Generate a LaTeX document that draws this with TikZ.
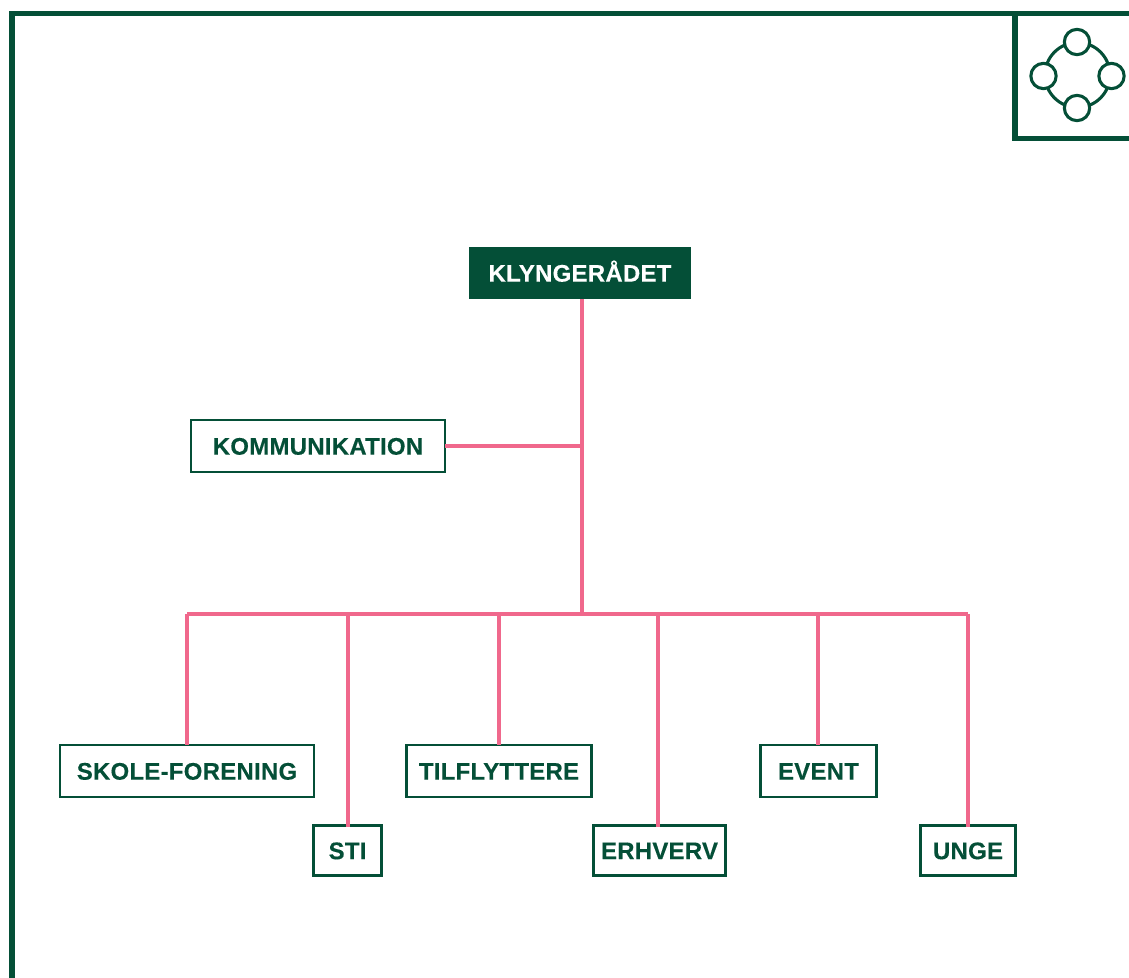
\documentclass[tikz,border=0pt]{standalone}
\usepackage{fontspec}
\setmainfont[LetterSpace=1,BoldFeatures={FakeBold=0.25}]{Liberation Sans}
\definecolor{klgreen}{HTML}{044F37}
\definecolor{klpink}{HTML}{F0688C}
\tikzset{
  x=0.75pt,y=-0.75pt,
  frameline/.style={draw=klgreen,line width=4.1pt,line cap=butt},
  link/.style={draw=klpink,line width=3pt},
  box/.style={draw=klgreen,fill=white,line width=2.1pt,outer sep=0pt,inner sep=0pt,
    text=klgreen,font=\fontsize{18}{20}\selectfont\bfseries,minimum height=39pt,
    text height=13pt,text depth=0pt},
  headbox/.style={box,fill=klgreen,text=white},
  iconline/.style={draw=klgreen,line width=2.3pt},
  iconnode/.style={circle,draw=klgreen,fill=white,line width=2.3pt,outer sep=0pt,inner sep=0pt,minimum size=19pt}
}
\begin{document}
\begin{tikzpicture}
\useasboundingbox (0,0) rectangle (1129,978);
% frame
\coordinate (fa) at (12,978);
\coordinate (fb) at (12,13.5);
\coordinate (fc) at (1129,13.5);
\coordinate (ca) at (1015,13.5);
\coordinate (cb) at (1015,138.5);
\coordinate (cc) at (1129,138.5);
\draw[frameline,line join=miter] (fa) -- (fb) -- (fc);
\draw[frameline,line join=miter] (ca) -- (cb) -- (cc);
% icon
\coordinate (ic) at (1077.5,75);
\draw[iconline] (ic) circle[radius=32.5];
\node[iconnode] (i1) at (1077,42) {};
\node[iconnode] (i2) at (1043.5,76) {};
\node[iconnode] (i3) at (1111.5,76) {};
\node[iconnode] (i4) at (1077,108) {};
% boxes
\node[headbox,minimum width=166.5pt,draw=none,minimum height=39pt] (kr) at (580,273) {KLYNGERÅDET};
\node[box,minimum width=190.5pt] (ko) at (318,446) {KOMMUNIKATION};
\node[box,minimum width=190.5pt] (sk) at (187,771) {SKOLE-FORENING};
\node[box,minimum width=50.5pt,minimum height=38pt] (st) at (347.5,850.5) {STI};
\node[box,minimum width=138.5pt] (ti) at (499,771) {TILFLYTTERE};
\node[box,minimum width=99pt,minimum height=38pt] (er) at (659.5,850.5) {ERHVERV};
\node[box,minimum width=87pt] (ev) at (818.5,771) {EVENT};
\node[box,minimum width=71.5pt,minimum height=38pt] (un) at (968,850.5) {UNGE};
% bus
\coordinate (stemtop) at (581.5,299);
\coordinate (j1) at (581.5,446);
\coordinate (j2) at (581.5,614);
\coordinate (b1) at (187,614);
\coordinate (b2) at (348,614);
\coordinate (b3) at (499,614);
\coordinate (b4) at (658,614);
\coordinate (b5) at (818,614);
\coordinate (b6) at (968,614);
\draw[link] (stemtop) -- (j2);
\draw[link] (ko.east) -- (j1);
\draw[link,line cap=square] (b1) -- (b6);
\draw[link] (b1) -- (b1 |- sk.north);
\draw[link] (b2) -- ([yshift=-1pt]b2 |- st.north);
\draw[link] (b3) -- (b3 |- ti.north);
\draw[link] (b4) -- ([yshift=-1pt]b4 |- er.north);
\draw[link] (b5) -- (b5 |- ev.north);
\draw[link] (b6) -- ([yshift=-1pt]b6 |- un.north);
\end{tikzpicture}
\end{document}
